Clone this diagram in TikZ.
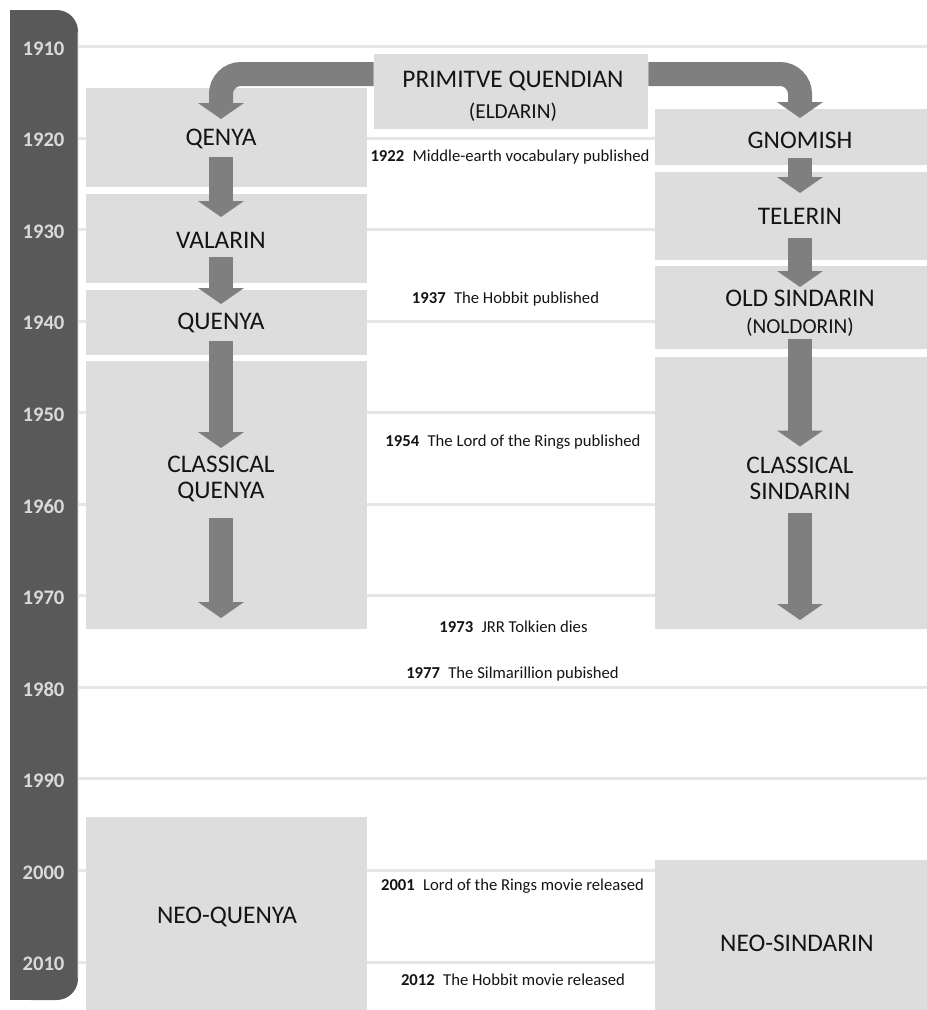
\documentclass[tikz,border=0pt]{standalone}
\usepackage{fontspec}
\setmainfont{Carlito}
\usepackage{tikz}
\usetikzlibrary{arrows.meta, positioning, fit, calc}
\definecolor{bargray}{HTML}{595959}
\definecolor{baredge}{HTML}{8C8C8C}
\definecolor{yeartext}{HTML}{DADADA}
\definecolor{linegray}{HTML}{E6E6E6}
\definecolor{boxgray}{HTML}{DDDDDD}
\definecolor{flowgray}{HTML}{7F7F7F}
\definecolor{inkblack}{HTML}{141414}

\begin{document}
\begin{tikzpicture}[
    x=0.75pt, y=-0.75pt,
    langbox/.style={rectangle, fill=boxgray, draw=none, inner sep=0pt},
    lang/.style={inner sep=0pt, anchor=base, text=inkblack,
                 font=\fontsize{19}{19.5}\selectfont},
    langsub/.style={inner sep=0pt, anchor=base, text=inkblack,
                    font=\fontsize{16}{18}\selectfont},
    event/.style={inner sep=0pt, anchor=base, text=inkblack,
                  font=\fontsize{12.5}{14}\selectfont},
    yearlbl/.style={inner sep=0pt, text=yeartext,
                     font=\fontsize{15.5}{17}\selectfont\bfseries},
    flow/.style={draw=flowgray, line width=18pt,
                 -{Triangle[width=34.5pt, length=12pt, line width=0pt]}},
    gridline/.style={draw=linegray, line width=2.25pt},
]

% Canvas
\path[fill=white] (0,0) rectangle (927,1010);
\useasboundingbox (0,0) rectangle (927,1010);

% Year bar
\fill[bargray, rounded corners=16pt] (10,10) rectangle (78,1000);
\fill[bargray] (10,10) rectangle (40,1000);
\draw[baredge, line width=1.2pt] (77.5,32) -- (77.5,978);

% Decade lines and year labels
\foreach \yr [count=\i from 0] in {1910,1920,...,2010} {
  \draw[gridline] (78,46.5+91.55*\i) -- (927,46.5+91.55*\i);
  \node[yearlbl] (y\yr) at (43.5,48.5+91.55*\i) {\yr};
}

% Boxes: common root
\node[langbox, fit={(374,54) (648,129)}] (pqbox) {};

% Boxes: Quenya line
\node[langbox, fit={(86,88) (367,187)}] (qenyabox) {};
\node[langbox, fit={(86,194) (367,283)}] (valarinbox) {};
\node[langbox, fit={(86,290) (367,355)}] (quenyabox) {};
\node[langbox, fit={(86,361) (367,629)}] (cquenyabox) {};
\node[langbox, fit={(86,817) (367,1010)}] (neoqbox) {};

% Boxes: Sindarin line
\node[langbox, fit={(655,109) (927,165)}] (gnomishbox) {};
\node[langbox, fit={(655,172) (927,260)}] (telerinbox) {};
\node[langbox, fit={(655,266) (927,349)}] (oldsbox) {};
\node[langbox, fit={(655,357) (927,629)}] (csindbox) {};
\node[langbox, fit={(655,860) (927,1010)}] (neosbox) {};

% Language names
\node[lang] (pq) at (513,87) {PRIMITVE QUENDIAN};
\node[langsub] (pqsub) at (513,118) {(ELDARIN)};

\node[lang] (qenya) at (221,145) {QENYA};
\node[lang] (valarin) at (221,248) {VALARIN};
\node[lang] (quenya) at (221,329) {QUENYA};
\node[lang, anchor=center, align=center] (cquenya) at (221,479) {CLASSICAL\\QUENYA};
\node[lang] (neoquenya) at (227,923) {NEO-QUENYA};

\node[lang] (gnomish) at (800,148) {GNOMISH};
\node[lang] (telerin) at (800,224) {TELERIN};
\node[lang] (oldsind) at (800,306.5) {OLD SINDARIN};
\node[langsub] (noldorin) at (800,333) {(NOLDORIN)};
\node[lang, anchor=center, align=center] (csindarin) at (800,478.5) {CLASSICAL\\SINDARIN};
\node[lang] (neosind) at (797,951) {NEO-SINDARIN};

% Open ends of the two lines
\coordinate (qend) at (221,618);
\coordinate (send) at (800,620);

% Split from the root
\draw[flow, rounded corners=15pt] ($(pqbox.west)+(0,-17.5)$) -| ($(qenya.base)+(0,-26)$);
\draw[flow, rounded corners=15pt] ($(pqbox.east)+(0,-17.5)$) -| ($(gnomish.base)+(0,-30)$);

% Quenya arrows
\draw[flow] ($(qenya.base)+(0,12)$) -- ($(valarin.base)+(0,-31)$);
\draw[flow] ($(valarin.base)+(0,9)$) -- ($(quenya.base)+(0,-25)$);
\draw[flow] ($(quenya.base)+(0,12)$) -- ($(cquenya.center)+(0,-31)$);
\draw[flow] ($(cquenya.center)+(0,39)$) -- (qend);

% Sindarin arrows
\draw[flow] ($(gnomish.base)+(0,10)$) -- ($(telerin.base)+(0,-31)$);
\draw[flow] ($(telerin.base)+(0,14)$) -- ($(oldsind.base)+(0,-19.5)$);
\draw[flow] ($(noldorin.base)+(0,6)$) -- ($(csindarin.center)+(0,-32)$);
\draw[flow] ($(csindarin.center)+(0,34)$) -- (send);

% Events
\node[event] (ev1922) at (510,161) {\textbf{1922}\enspace Middle-earth vocabulary published};
\node[event] (ev1937) at (505.5,303) {\textbf{1937}\enspace The Hobbit published};
\node[event] (ev1954) at (513,446) {\textbf{1954}\enspace The Lord of the Rings published};
\node[event] (ev1973) at (513.5,632) {\textbf{1973}\enspace JRR Tolkien dies};
\node[event] (ev1977) at (512.5,678) {\textbf{1977}\enspace The Silmarillion pubished};
\node[event] (ev2001) at (512.5,890) {\textbf{2001}\enspace Lord of the Rings movie released};
\node[event] (ev2012) at (513,985) {\textbf{2012}\enspace The Hobbit movie released};

\end{tikzpicture}
\end{document}
